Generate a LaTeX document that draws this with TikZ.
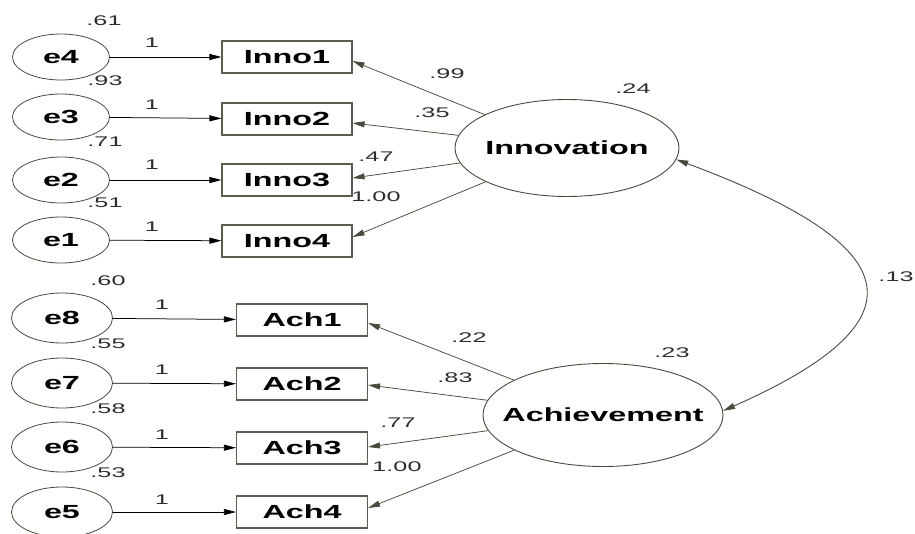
\documentclass[tikz,border=0pt]{standalone}
\usepackage{fontspec}
\usetikzlibrary{shapes.geometric,arrows.meta,calc}
\newfontfamily\namefont[FakeStretch=1.7]{Liberation Sans}
\newfontfamily\valfont[FakeStretch=1.8]{Liberation Sans}
\definecolor{edgegray}{RGB}{75,72,60}
\definecolor{boxgray}{RGB}{95,92,78}
\definecolor{valgray}{RGB}{45,45,45}
\tikzset{
  obsbox/.style={draw=boxgray, line width=1.1pt, fill=white, inner sep=0pt,
    minimum width=130pt, minimum height=32pt,
    font=\fontsize{19}{22}\selectfont\namefont\bfseries},
  errnode/.style={ellipse, draw=edgegray, line width=0.8pt, inner sep=0pt,
    font=\fontsize{19}{22}\selectfont\namefont\bfseries},
  latnode/.style={ellipse, draw=edgegray, line width=0.9pt, inner ysep=0pt,
    font=\fontsize{19}{22}\selectfont\namefont\bfseries},
  val/.style={inner sep=0pt, text=valgray,
    font=\fontsize{14}{16}\selectfont\valfont},
  fixpath/.style={draw=black, line width=0.75pt,
    -{Triangle[length=12pt,width=6pt]}},
  loadpath/.style={draw=edgegray, line width=0.75pt,
    -{Triangle[length=12pt,width=6pt]}},
  covpath/.style={draw=edgegray, line width=0.9pt,
    {Triangle[length=12pt,width=6pt]}-{Triangle[length=12pt,width=6pt]}}
}
\begin{document}
\begin{tikzpicture}[x=1pt,y=-1pt]
\useasboundingbox (0,0) rectangle (915,533);

% error terms, Innovation block
\foreach \n/\y in {e4/57,e3/117,e2/180,e1/240}
  \node[errnode, minimum width=97pt, minimum height=46pt] (\n) at (61,\y) {\n};
% error terms, Achievement block
\foreach \n/\y in {e8/318,e7/383,e6/447,e5/512}
  \node[errnode, minimum width=101pt, minimum height=50pt] (\n) at (62,\y) {\n};

% observed indicators
\node[obsbox] (Inno1) at (287,57) {Inno1};
\node[obsbox] (Inno2) at (287,119) {Inno2};
\node[obsbox] (Inno3) at (287,180) {Inno3};
\node[obsbox] (Inno4) at (287,241) {Inno4};
\node[obsbox, minimum width=131pt] (Ach1) at (302,320) {Ach1};
\node[obsbox, minimum width=131pt] (Ach2) at (302,384) {Ach2};
\node[obsbox, minimum width=131pt] (Ach3) at (302,448) {Ach3};
\node[obsbox, minimum width=131pt] (Ach4) at (302,512) {Ach4};

% latent factors
\node[latnode, inner xsep=-3pt, minimum width=224pt, minimum height=97pt] (Innovation) at (567,148) {Innovation};
\node[latnode, inner xsep=-16pt, minimum width=240pt, minimum height=103pt] (Achievement) at (603,415) {Achievement};

% error paths (fixed at 1)
\foreach \e/\o in {e4/Inno1,e3/Inno2,e2/Inno3,e1/Inno4,e8/Ach1,e7/Ach2,e6/Ach3,e5/Ach4}
  \draw[fixpath] (\e) -- (\o);

% factor loadings
\draw[loadpath] (Innovation) -- ($(Inno1.east)+(0,4)$);
\draw[loadpath] (Innovation) -- ($(Inno2.east)+(0,4)$);
\draw[loadpath] (Innovation) -- ($(Inno3.east)+(0,-2)$);
\draw[loadpath] (Innovation) -- ($(Inno4.east)+(0,-4)$);
\draw[loadpath] (Achievement) -- ($(Ach1.east)+(0,3)$);
\draw[loadpath] (Achievement) -- ($(Ach2.east)+(0,1)$);
\draw[loadpath] (Achievement) -- ($(Ach3.east)+(0,-1)$);
\draw[loadpath] (Achievement) -- ($(Ach4.east)+(0,-4)$);

% factor covariance
\draw[covpath] (Innovation.-6) .. controls +(220,82) and +(215,-95) .. (Achievement.2);

% fixed path labels
\foreach \y in {43,105,165,227} \node[val] at (152,\y) {1};
\foreach \y in {305,370,435,500} \node[val] at (162,\y) {1};

% error variances / squared multiple correlations
\node[val] at (104,21) {.61};
\node[val] at (105,81) {.93};
\node[val] at (105,142) {.71};
\node[val] at (105,203) {.51};
\node[val] at (108,281) {.60};
\node[val] at (108,344) {.55};
\node[val] at (108,409) {.58};
\node[val] at (108,473) {.53};

% loading estimates
\node[val] at (447,74) {.99};
\node[val] at (432,113) {.35};
\node[val] at (376,157) {.47};
\node[val] at (376,197) {1.00};
\node[val] at (469,338) {.22};
\node[val] at (455,378) {.83};
\node[val] at (398,423) {.77};
\node[val] at (397,467) {1.00};

% factor variances and covariance
\node[val] at (633,89) {.24};
\node[val] at (672,353) {.23};
\node[val] at (896,277) {.13};
\end{tikzpicture}
\end{document}
